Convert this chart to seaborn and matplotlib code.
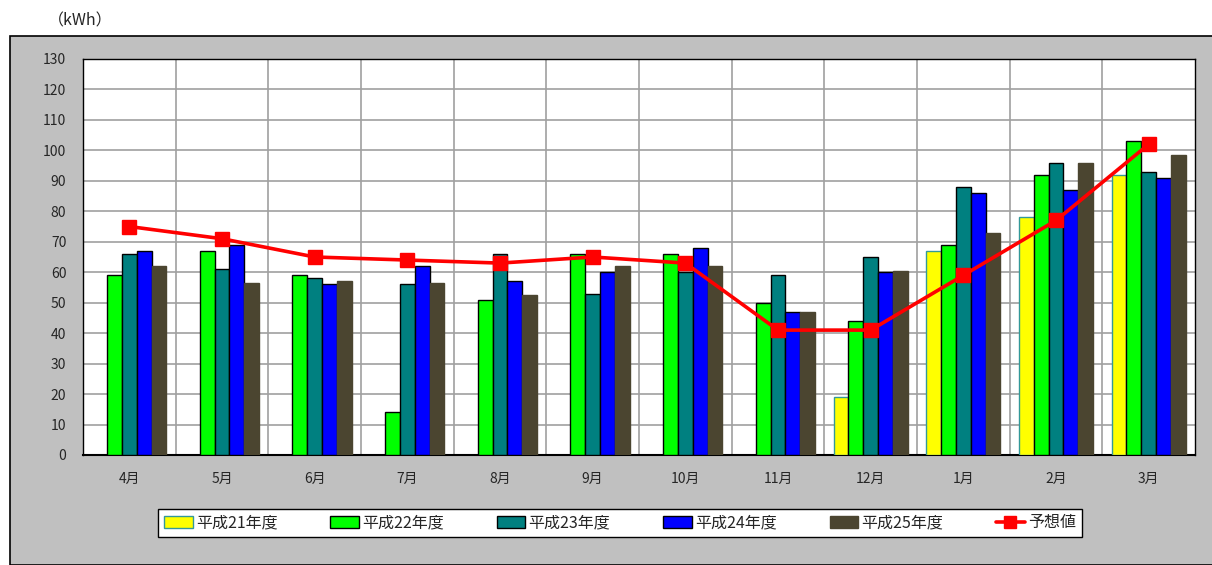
import numpy as np
import pandas as pd
import seaborn as sns
import matplotlib.pyplot as plt
from matplotlib.patches import Rectangle, Patch
from matplotlib.lines import Line2D

# monthly usage (kWh)
months = ['4月', '5月', '6月', '7月', '8月', '9月', '10月', '11月', '12月', '1月', '2月', '3月']
years = ['平成21年度', '平成22年度', '平成23年度', '平成24年度', '平成25年度']
h21 = [np.nan, np.nan, np.nan, np.nan, np.nan, np.nan, np.nan, np.nan, 19, 67, 78, 92]
h22 = [59, 67, 59, 14, 51, 66, 66, 50, 44, 69, 92, 103]
h23 = [66, 61, 58, 56, 66, 53, 60, 59, 65, 88, 96, 93]
h24 = [67, 69, 56, 62, 57, 60, 68, 47, 60, 86, 87, 91]
h25 = [62, 56.5, 57, 56.5, 52.5, 62, 62, 47, 60.5, 73, 96, 98.5]
forecast = [75, 71, 65, 64, 63, 65, 63, 41, 41, 59, 77, 102]

colors = ['#FFFF00', '#00FF00', '#008080', '#0000FF', '#4B4530']
edges = ['#339999', 'black', 'black', 'black', '#4B4530']

df = pd.DataFrame({
    'month': months * 5,
    'year': np.repeat(years, len(months)),
    'kwh': h21 + h22 + h23 + h24 + h25,
})

sns.set_style('white')
plt.rcParams['font.family'] = ['Noto Sans CJK JP', 'DejaVu Sans']

fig = plt.figure(figsize=(12.12, 5.65), dpi=100)
fig.patch.set_facecolor('white')
# grey chart area
fig.add_artist(Rectangle((10 / 1212, 0), 1.0, (565 - 36) / 565, transform=fig.transFigure,
                         facecolor='#C0C0C0', edgecolor='black', lw=1.2, zorder=0))
fig.text(80 / 1212, (565 - 21) / 565, '（kWh）', ha='center', va='center', fontsize=11.5)

ax = fig.add_axes([83 / 1212, (565 - 455) / 565, (1195 - 83) / 1212, (455 - 59) / 565])
ax.set_facecolor('white')

sns.barplot(data=df, x='month', y='kwh', hue='year', order=months, hue_order=years,
            palette=colors, width=0.8, saturation=1, legend=False, ax=ax, zorder=3)
for cont, ec in zip(ax.containers, edges):
    for bar in cont:
        bar.set_edgecolor(ec)
        bar.set_linewidth(1)

x = np.arange(len(months))
ax.plot(x, forecast, color='#FF0000', lw=2.6, marker='s', markersize=10, zorder=5)

ax.set_xlim(-0.5, len(months) - 0.5)
ax.set_ylim(0, 130)
ax.set_yticks(range(0, 131, 10))
ax.set_xticks(x)
ax.set_xticklabels(months)
ax.set_xticks(np.arange(0.5, len(months) - 0.5, 1), minor=True)
ax.grid(False)
ax.yaxis.grid(True, color='#A0A0A0', lw=1.2, zorder=0)
ax.xaxis.grid(True, which='minor', color='#A0A0A0', lw=1.2, zorder=0)
ax.set_axisbelow(True)
ax.tick_params(axis='y', direction='in', length=4, labelsize=10, pad=12)
ax.tick_params(axis='x', which='major', length=0, labelsize=10, pad=12)
ax.tick_params(axis='x', which='minor', direction='in', length=4)
ax.set_xlabel('')
ax.set_ylabel('')
for s in ax.spines.values():
    s.set_color('black')
    s.set_linewidth(1)
ax.spines['bottom'].set_linewidth(1.5)

handles = [Patch(facecolor=c, edgecolor=e, lw=1) for c, e in zip(colors, edges)]
handles.append(Line2D([0], [0], color='#FF0000', lw=2.6, marker='s', markersize=8))
leg = fig.legend(handles, years + ['予想値'], loc='center', ncol=6,
                 bbox_to_anchor=(620 / 1212, (565 - 523) / 565), fontsize=11.5,
                 frameon=True, fancybox=False, edgecolor='black', framealpha=1,
                 handlelength=1.8, handleheight=0.7, handletextpad=0.2, columnspacing=3.3,
                 borderpad=0.35)
leg.get_frame().set_linewidth(1)

fig.savefig('out.png', dpi=100)
